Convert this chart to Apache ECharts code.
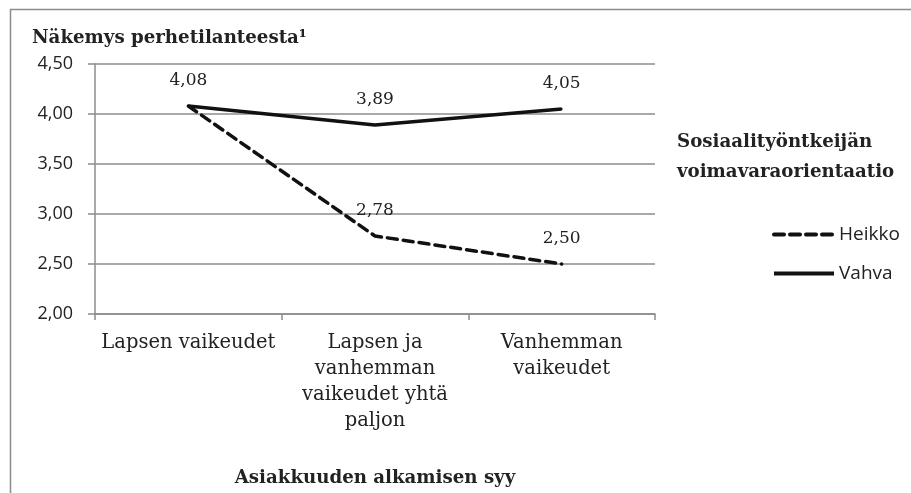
<!DOCTYPE html>
<html><head><meta charset="utf-8">
<script src="https://cdn.jsdelivr.net/npm/echarts@6/dist/echarts.min.js"></script>
<style>html,body{margin:0;padding:0;background:#fff}#c{width:911px;height:493px}</style>
</head><body><div id="c"></div>
<script>
const categories = ["Lapsen vaikeudet", "Lapsen ja\nvanhemman\nvaikeudet yhtä\npaljon", "Vanhemman\nvaikeudet"];
const heikko = [4.08, 2.78, 2.50];
const vahva = [4.08, 3.89, 4.05];
const seriesNames = ["Heikko", "Vahva"];
const yTicks = [2.0, 2.5, 3.0, 3.5, 4.0, 4.5];

const serif = "DejaVu Serif";
const sans = "Open Sans";
const fmt = v => v.toFixed(2).replace('.', ',');
const chart = echarts.init(document.getElementById('c'), null, {renderer: 'canvas'});
const labelStyle = {show: true, position: 'top', distance: 16, fontFamily: serif, fontSize: 17, color: '#222', formatter: p => fmt(p.value)};
chart.setOption({
  animation: false,
  backgroundColor: '#fff',
  graphic: [{type: 'rect', shape: {x: 10.5, y: 9.5, width: 1000, height: 1000}, style: {fill: 'none', stroke: '#8c8c8c', lineWidth: 1.5}}],
  title: [
    {text: "Näkemys perhetilanteesta¹", left: 27, top: 24, textStyle: {fontFamily: serif, fontWeight: 'bold', fontSize: 18.2, color: '#222'}},
    {text: "Sosiaalityöntkeijän\nvoimavaraorientaatio", left: 672, top: 122, textStyle: {fontFamily: serif, fontWeight: 'bold', fontSize: 18.2, color: '#222', lineHeight: 30}}
  ],
  legend: {
    orient: 'vertical', left: 767, top: 220, itemGap: 20, itemWidth: 60, itemHeight: 20,
    textStyle: {fontFamily: sans, fontSize: 19, color: '#222'},
    itemStyle: {opacity: 0},
    lineStyle: {width: 4},
    data: seriesNames
  },
  grid: {left: 95, top: 64, right: 256, bottom: 179},
  xAxis: {
    type: 'category', data: categories, boundaryGap: true,
    axisLine: {lineStyle: {color: '#8c8c8c', width: 1.5}},
    axisTick: {show: true, alignWithLabel: false, length: 6, lineStyle: {color: '#8c8c8c', width: 1.5}},
    axisLabel: {fontFamily: serif, fontSize: 19.5, color: '#222', lineHeight: 26, margin: 16, interval: 0},
    name: "Asiakkuuden alkamisen syy", nameLocation: 'middle', nameGap: 155,
    nameTextStyle: {fontFamily: serif, fontWeight: 'bold', fontSize: 18.2, color: '#222'}
  },
  yAxis: {
    type: 'value', min: 2, max: 4.5, interval: 0.5,
    axisLine: {show: true, lineStyle: {color: '#8c8c8c', width: 1.5}},
    axisTick: {show: true, length: 7, lineStyle: {color: '#8c8c8c', width: 1.5}},
    axisLabel: {fontFamily: sans, fontSize: 18, color: '#222', margin: 22, formatter: v => fmt(v)},
    splitLine: {lineStyle: {color: '#8c8c8c', width: 1.5}}
  },
  series: [
    {name: seriesNames[0], type: 'line', data: heikko.map((v, i) => ({value: v, label: {show: i !== 0}})),
     symbol: 'circle', symbolSize: 2, showSymbol: true,
     lineStyle: {color: '#111', width: 3.5, type: [10, 6], cap: 'round'}, itemStyle: {color: '#111'},
     label: labelStyle},
    {name: seriesNames[1], type: 'line', data: vahva,
     symbol: 'circle', symbolSize: 2, showSymbol: true,
     lineStyle: {color: '#111', width: 3.5}, itemStyle: {color: '#111'},
     label: labelStyle}
  ]
});
</script></body></html>
